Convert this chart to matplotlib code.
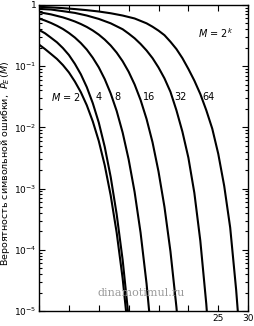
import matplotlib
matplotlib.use("Agg")
import matplotlib.pyplot as plt
from matplotlib.ticker import FixedLocator, FixedFormatter, LogLocator, NullFormatter

# SNR per bit (dB) and symbol error probability
x2 = [-5, -4, -3, -2, -1, 0, 1, 2, 3, 4, 5, 6, 7, 8, 9, 10]
p2 = [0.225, 0.19, 0.158, 0.131, 0.104, 0.079, 0.056, 0.0375, 0.0229, 0.0125,
      0.006, 0.0024, 7.7e-4, 1.9e-4, 3.4e-5, 3.9e-6]

x4 = [-5, -4, -3, -2, -1, 0, 1, 2, 3, 4, 5, 6, 7, 8, 9, 10]
p4 = [0.39, 0.344, 0.291, 0.245, 0.197, 0.152, 0.109, 0.0736, 0.0453, 0.0248,
      0.012, 0.0048, 1.54e-3, 3.8e-4, 6.8e-5, 7.8e-6]

x8 = [-5, -4, -3, -2, -1, 0, 1, 2, 3, 4, 5, 6, 7, 8, 9, 10, 11, 12, 13, 14]
p8 = [0.60, 0.555, 0.507, 0.456, 0.404, 0.348, 0.293, 0.238, 0.186, 0.137,
      0.0956, 0.0613, 0.0357, 0.0185, 0.0082, 0.0030, 8.8e-4, 1.9e-4, 2.8e-5, 2.6e-6]

x16 = [-5, -3, -1, 0, 1, 2, 3, 4, 5, 6, 7, 8, 9, 10, 11, 12, 13, 14, 15, 16, 17, 18, 19]
p16 = [0.76, 0.70, 0.625, 0.581, 0.536, 0.487, 0.436, 0.382, 0.327, 0.271, 0.217,
       0.166, 0.12, 0.081, 0.0502, 0.028, 0.0137, 0.0057, 0.0019, 5.0e-4, 9.4e-5,
       1.16e-5, 8.8e-7]

x32 = [-5, -3, -1, 1, 3, 5, 7, 9, 10, 11, 12, 13, 14, 15, 16, 17, 18, 19, 20, 21, 22, 23, 24]
p32 = [0.86, 0.84, 0.79, 0.74, 0.67, 0.59, 0.50, 0.40, 0.34, 0.285, 0.23, 0.18, 0.135,
       0.095, 0.063, 0.038, 0.019, 0.0085, 3.2e-3, 8.5e-4, 1.4e-4, 1.3e-5, 6e-7]

x64 = [-5, -3, -1, 1, 3, 5, 7, 9, 11, 13, 14, 15, 16, 17, 18, 19, 20, 21, 22, 23, 24,
       25, 26, 27, 28, 29]
p64 = [0.93, 0.91, 0.885, 0.855, 0.82, 0.78, 0.73, 0.67, 0.6, 0.5, 0.44, 0.38, 0.32,
       0.25, 0.19, 0.135, 0.09, 0.058, 0.035, 0.019, 0.0095, 0.0037, 0.0011, 2.3e-4,
       2.2e-5, 1.2e-6]

curve_labels = ["$M$ = 2", "4", "8", "16", "32", "64"]
label_x = [-0.4, 4.9, 8.2, 13.4, 18.7, 23.4]
label_y = 0.031

xticks = [-5, 0, 5, 10, 15, 20, 25, 30]
xtick_labels = ["", "", "", "", "", "", "25", "30"]
yticks = [1e-5, 1e-4, 1e-3, 1e-2, 1e-1, 1]
ytick_labels = ["$10^{-5}$", "$10^{-4}$", "$10^{-3}$", "$10^{-2}$", "$10^{-1}$", "1"]

fig = plt.figure(figsize=(2.55, 3.26), dpi=100)
ax = fig.add_axes([0.153, 0.046, 0.820, 0.939])

for xs, ps in [(x2, p2), (x4, p4), (x8, p8), (x16, p16), (x32, p32), (x64, p64)]:
    ax.semilogy(xs, ps, color="black", lw=1.5)

ax.set_xlim(-5, 30)
ax.set_ylim(1e-5, 1)

ax.xaxis.set_major_locator(FixedLocator(xticks))
ax.xaxis.set_major_formatter(FixedFormatter(xtick_labels))
ax.yaxis.set_major_locator(FixedLocator(yticks))
ax.yaxis.set_major_formatter(FixedFormatter(ytick_labels))
ax.yaxis.set_minor_locator(LogLocator(base=10, subs=range(2, 10), numticks=20))
ax.yaxis.set_minor_formatter(NullFormatter())

ax.tick_params(which="both", direction="in", top=True, right=True, labelsize=6.5,
               pad=2, width=0.8)
ax.tick_params(which="major", length=4)
ax.tick_params(which="minor", length=2)
for s in ax.spines.values():
    s.set_linewidth(1.0)

for lab, lx in zip(curve_labels, label_x):
    ax.text(lx, label_y, lab, fontsize=7, ha="center", va="center")
ax.text(24.5, 0.35, "$M$ = 2$^k$", fontsize=7, ha="center", va="center")

fig.text(0.022, 0.50, "Вероятность символьной ошибки,  $P_E\\,(M)$",
         rotation=90, fontsize=6.8, ha="center", va="center")

fig.text(0.553, 0.101, "dinamotimul.ru", fontsize=8, color="#9a9a9a",
         family="DejaVu Serif", ha="center", va="center")

fig.savefig("out.png", dpi=100)
